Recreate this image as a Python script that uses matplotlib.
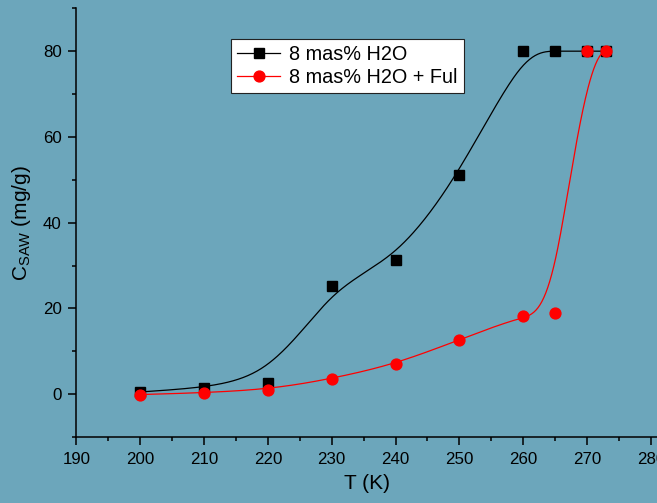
import numpy as np
import matplotlib
matplotlib.use("Agg")
import matplotlib.pyplot as plt

T_black = [200, 210, 220, 230, 240, 250, 260, 265, 270, 273]
C_black = [0.5, 1.5, 2.7, 25.3, 31.2, 51.2, 80.0, 80.0, 80.0, 80.0]
T_red = [200, 210, 220, 230, 240, 250, 260, 265, 270, 273]
C_red = [-0.1, 0.3, 1.0, 3.6, 7.0, 12.7, 18.3, 19.0, 80.0, 80.0]
labels = ["8 mas% H2O", "8 mas% H2O + Ful"]


def bspline(xs, ys, k=3, n=400):
    P = np.column_stack([xs, ys]).astype(float)
    m = len(P)
    inner = np.arange(1, m - k)
    knots = np.concatenate([np.zeros(k + 1), inner, np.full(k + 1, m - k)]).astype(float)
    ts = np.linspace(0, m - k, n)
    out = []
    for t in ts:
        if t >= knots[-1]:
            i = m - 1
        else:
            i = np.searchsorted(knots, t, side="right") - 1
        d = [P[j].copy() for j in range(i - k, i + 1)]
        for r in range(1, k + 1):
            for j in range(k, r - 1, -1):
                idx = j + i - k
                denom = knots[idx + k - r + 1] - knots[idx]
                a = 0.0 if denom == 0 else (t - knots[idx]) / denom
                d[j] = (1 - a) * d[j - 1] + a * d[j]
        out.append(d[k])
    out = np.array(out)
    return out[:, 0], out[:, 1]


plt.rcParams["font.family"] = ["Liberation Sans", "DejaVu Sans"]
bg = "#6ca6bb"
fig = plt.figure(figsize=(6.57, 5.03), dpi=100, facecolor=bg)
ax = fig.add_axes([76.3 / 657, (503 - 437) / 503, 1 - 76.3 / 657, (437 - 8.3) / 503])
ax.set_facecolor(bg)

bx, by = bspline(T_black, C_black)
rx, ry = bspline(T_red, C_red)
ax.plot(bx, by, color="black", lw=0.9)
ax.plot(T_black, C_black, ls="none", marker="s", ms=6.8, color="black")
ax.plot(rx, ry, color="red", lw=0.9)
ax.plot(T_red, C_red, ls="none", marker="o", ms=7.8, color="red")

h1, = ax.plot([], [], color="black", lw=0.9, marker="s", ms=6.8)
h2, = ax.plot([], [], color="red", lw=0.9, marker="o", ms=7.8)
leg = ax.legend([h1, h2], labels, loc="upper left",
                bbox_to_anchor=((230.7 - 76.3) / 580.7, (437 - 39.3) / 428.7),
                frameon=True, fancybox=False, framealpha=1, edgecolor="#222222", fontsize=14.3,
                handlelength=2.2, handletextpad=0.45, borderpad=0.3, labelspacing=0.2,
                borderaxespad=0)
leg.get_frame().set_linewidth(0.8)

ax.set_xlim(190, 280.95)
ax.set_ylim(-10, 90)
ax.set_xticks(np.arange(190, 281, 10))
ax.set_xticks(np.arange(195, 281, 10), minor=True)
ax.set_yticks([0, 20, 40, 60, 80])
ax.set_yticks([-10, 10, 30, 50, 70, 90], minor=True)
for s in ["top", "right"]:
    ax.spines[s].set_visible(False)
for s in ["left", "bottom"]:
    ax.spines[s].set_linewidth(1.1)
ax.tick_params(which="major", direction="out", length=6, width=1.1, labelsize=12.2, pad=4.5)
ax.tick_params(which="minor", direction="out", length=3, width=1.1)
ax.set_xlabel("T (K)", fontsize=15, labelpad=5)
ax.set_ylabel(r"C$_{\mathregular{SAW}}$ (mg/g)", fontsize=15, labelpad=7)

fig.savefig("out.png", dpi=100, facecolor=bg)
